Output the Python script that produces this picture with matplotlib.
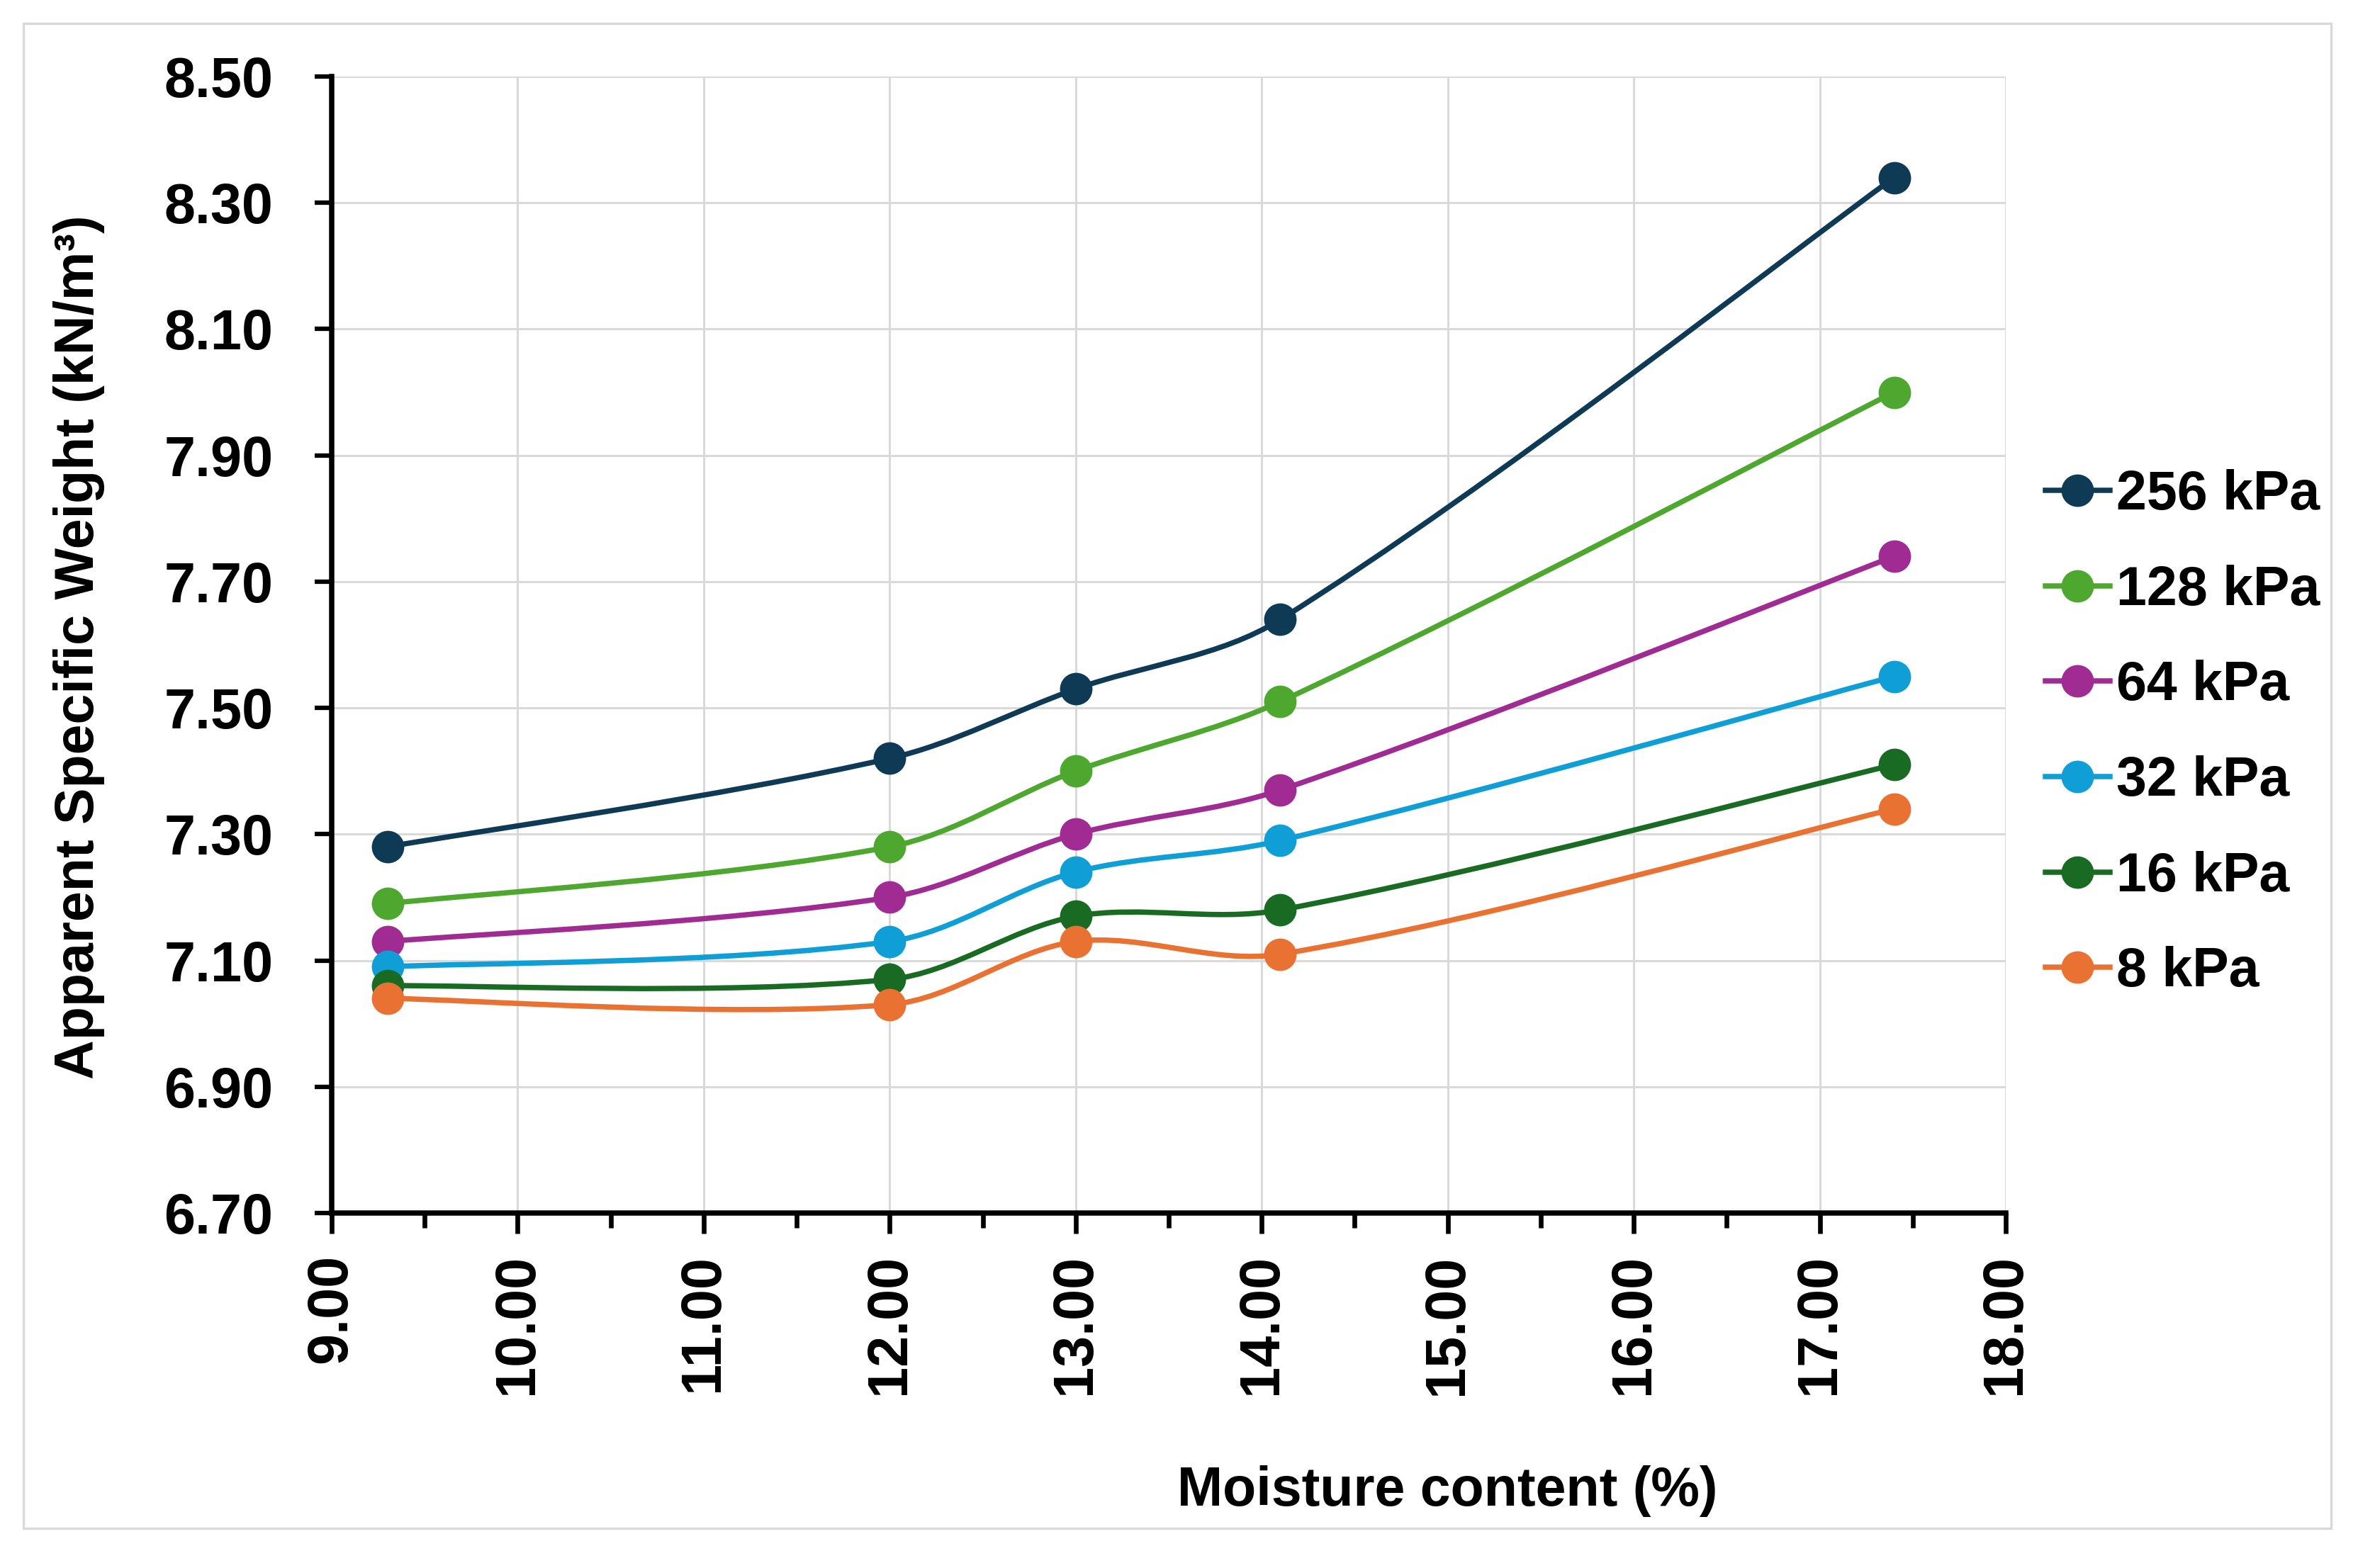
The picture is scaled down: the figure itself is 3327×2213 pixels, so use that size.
import matplotlib
matplotlib.use("Agg")
import matplotlib.pyplot as plt
from matplotlib.path import Path
from matplotlib.patches import PathPatch, Rectangle
from matplotlib.lines import Line2D
from matplotlib.ticker import FixedLocator, MultipleLocator, FormatStrFormatter
import numpy as np

plt.rcParams['font.family'] = ['Liberation Sans', 'DejaVu Sans']

# ---- data ----
moisture = [9.3, 12.0, 13.0, 14.1, 17.4]
series_labels = ["256 kPa", "128 kPa", "64 kPa", "32 kPa", "16 kPa", "8 kPa"]
w_256 = [7.28, 7.42, 7.53, 7.64, 8.34]
w_128 = [7.19, 7.28, 7.40, 7.51, 8.00]
w_64 = [7.13, 7.20, 7.30, 7.37, 7.74]
w_32 = [7.09, 7.13, 7.24, 7.29, 7.55]
w_16 = [7.06, 7.07, 7.17, 7.18, 7.41]
w_8 = [7.04, 7.03, 7.13, 7.11, 7.34]
series_values = [w_256, w_128, w_64, w_32, w_16, w_8]
colors = ["#0f3a56", "#4ea72e", "#a02b93", "#0f9ed5", "#196b24", "#e97132"]
x_ticks = [9.0, 10.0, 11.0, 12.0, 13.0, 14.0, 15.0, 16.0, 17.0, 18.0]
y_ticks = [6.70, 6.90, 7.10, 7.30, 7.50, 7.70, 7.90, 8.10, 8.30, 8.50]

W, H = 3327, 2213
DPI = 300
fig = plt.figure(figsize=(W / DPI, H / DPI), dpi=DPI)
fig.patch.set_facecolor("white")

# outer chart border
fig.patches.append(Rectangle((33 / W, 1 - 2157 / H), (3289 - 33) / W, (2157 - 33) / H,
                             transform=fig.transFigure, fill=False,
                             edgecolor="#d9d9d9", linewidth=0.8, zorder=0))

left, right, top, bottom = 468, 2830, 108, 1712
ax = fig.add_axes([left / W, 1 - bottom / H, (right - left) / W, (bottom - top) / H])

ax.set_xlim(x_ticks[0], x_ticks[-1])
ax.set_ylim(y_ticks[0], y_ticks[-1])
ax.xaxis.set_major_locator(FixedLocator(x_ticks))
ax.xaxis.set_minor_locator(MultipleLocator(0.5))
ax.yaxis.set_major_locator(FixedLocator(y_ticks))
ax.xaxis.set_major_formatter(FormatStrFormatter("%.2f"))
ax.yaxis.set_major_formatter(FormatStrFormatter("%.2f"))

ax.grid(True, which="major", color="#d9d9d9", linewidth=0.7, zorder=0)
ax.set_axisbelow(True)
for s in ["top", "right"]:
    ax.spines[s].set_visible(False)
for s in ["left", "bottom"]:
    ax.spines[s].set_linewidth(1.8)
    ax.spines[s].set_color("black")

ax.tick_params(axis="x", which="major", direction="out", length=7, width=1.6,
               pad=7, labelsize=19, labelrotation=90)
ax.tick_params(axis="x", which="minor", direction="out", length=5, width=1.6)
ax.tick_params(axis="y", which="major", direction="out", length=5.8, width=1.5,
               pad=14, labelsize=19)
for lab in ax.get_xticklabels() + ax.get_yticklabels():
    lab.set_fontweight("bold")

# pixel scale of data units (for chord-length-scaled smoothing, like spreadsheet smoothed lines)
SX = (right - left) / (x_ticks[-1] - x_ticks[0])
SY = (bottom - top) / (y_ticks[-1] - y_ticks[0])


def smooth_path(xs, ys):
    pts = np.column_stack([xs, ys]).astype(float)
    n = len(pts)
    scale = np.array([SX, SY])

    def dist(a, b):
        return float(np.hypot(*((a - b) * scale)))

    verts = [pts[0]]
    codes = [Path.MOVETO]
    for i in range(n - 1):
        p1, p2 = pts[i], pts[i + 1]
        d12 = dist(p1, p2)
        if i > 0:
            p0 = pts[i - 1]
            d01 = dist(p0, p1)
            c1 = p1 + (p2 - p0) * (d12 / (d01 + d12)) / 3.0
        else:
            c1 = p1 + (p2 - p1) / 6.0
        if i + 2 < n:
            p3 = pts[i + 2]
            d23 = dist(p2, p3)
            c2 = p2 - (p3 - p1) * (d12 / (d12 + d23)) / 3.0
        else:
            c2 = p2 - (p2 - p1) / 6.0
        verts += [c1, c2, p2]
        codes += [Path.CURVE4] * 3
    return Path(verts, codes)


LW = 1.8
MS = 11
handles = []
for k, (lab, vals, c) in enumerate(zip(series_labels, series_values, colors)):
    z = 3 + k
    ax.add_patch(PathPatch(smooth_path(moisture, vals), facecolor="none",
                           edgecolor=c, linewidth=LW, zorder=z, capstyle="round"))
    ax.plot(moisture, vals, linestyle="none", marker="o", markersize=MS,
            markerfacecolor=c, markeredgecolor=c, markeredgewidth=0, zorder=z + 0.5,
            clip_on=False)
    handles.append(Line2D([], [], color=c, linewidth=LW, marker="o", markersize=MS,
                          markerfacecolor=c, markeredgecolor=c, markeredgewidth=0))

leg = fig.legend(handles, series_labels, loc="upper left",
                 bbox_to_anchor=(2886 / W, 1 - 662 / H), bbox_transform=fig.transFigure,
                 frameon=False, borderpad=0, borderaxespad=0, handlelength=1.18,
                 handletextpad=0.12, labelspacing=0.8,
                 prop={"family": "Liberation Sans", "weight": "bold", "size": 18.5})

fig.text(112 / W, 1 - 913 / H, "Apparent Specific Weight (kN/m³)", rotation=90,
         ha="center", va="center", fontsize=18.5, fontweight="bold")
fig.text(2042 / W, 1 - 2125 / H, "Moisture content (%)", ha="center", va="baseline",
         fontsize=18.5, fontweight="bold")

fig.savefig("out.png", dpi=DPI)
